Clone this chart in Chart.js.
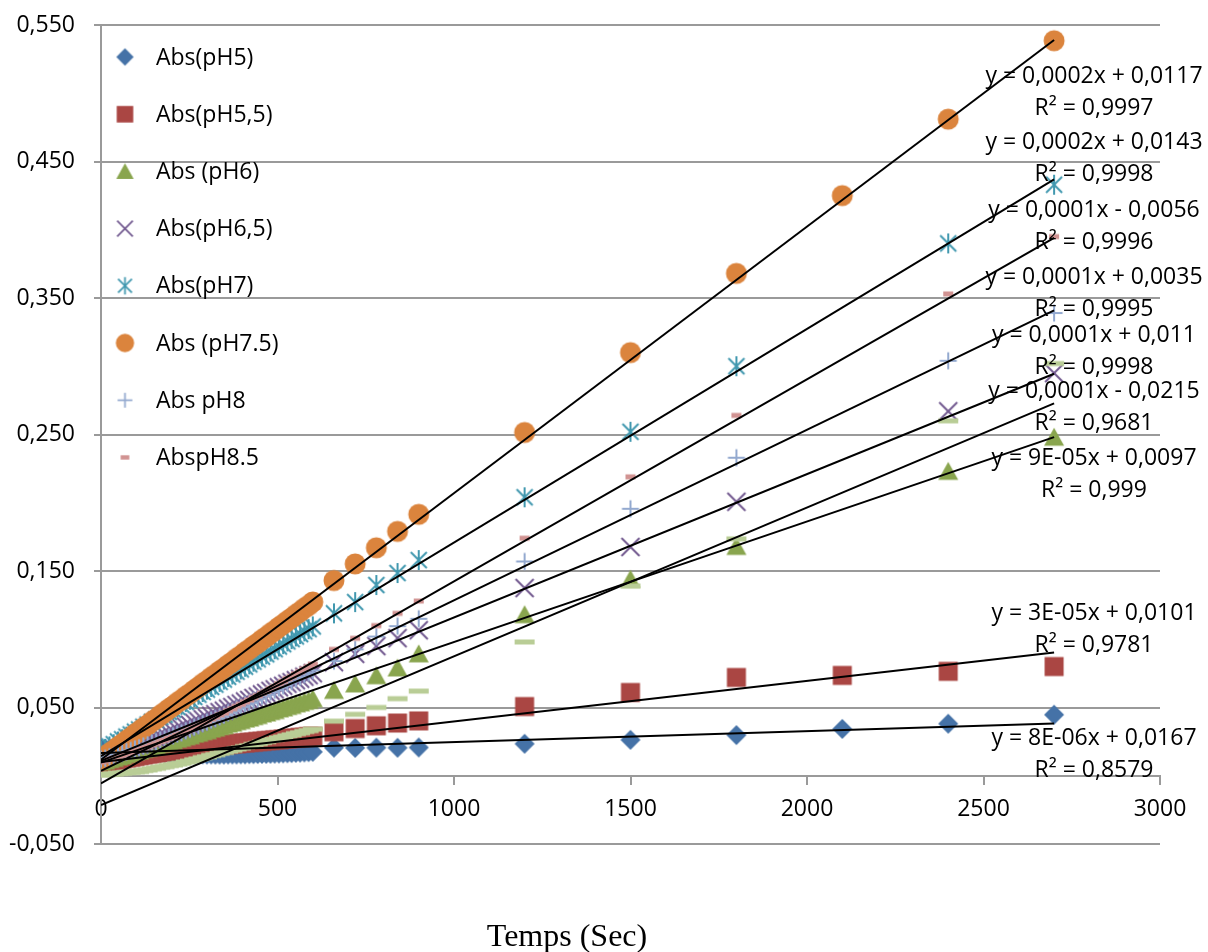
<!DOCTYPE html>
<html>
<head>
<meta charset="utf-8">
<title>Absorbance vs temps</title>
<script src="https://cdn.jsdelivr.net/npm/chart.js@4.4.1/dist/chart.umd.min.js"></script>
<style>
  html, body { margin: 0; padding: 0; background: #ffffff; }
  canvas { display: block; }
</style>
</head>
<body>
<canvas id="chart" width="1208" height="952"></canvas>
<script>
// Reading times (s): kinetic readings every 12 s up to 600 s, then spot readings
const tempsSec = [
  0, 12, 24, 36, 48, 60, 72, 84, 96, 108,
  120, 132, 144, 156, 168, 180, 192, 204, 216, 228,
  240, 252, 264, 276, 288, 300, 312, 324, 336, 348,
  360, 372, 384, 396, 408, 420, 432, 444, 456, 468,
  480, 492, 504, 516, 528, 540, 552, 564, 576, 588,
  600,
  660, 720, 780, 840, 900, 1200, 1500, 1800, 2100, 2400, 2700
];

// Absorbance per pH (null = no reading at that time)
const absPH5 = [
  .0201, .0198, .0194, .0192, .0188, .0186, .0183, .0181, .0178, .0177,
  .0174, .0172, .0171, .0169, .0167, .0166, .0164, .0163, .0162, .0161,
  .0160, .0159, .0158, .0157, .0157, .0156, .0156, .0155, .0155, .0155,
  .0156, .0156, .0156, .0157, .0157, .0158, .0158, .0159, .0160, .0160,
  .0161, .0162, .0163, .0164, .0165, .0166, .0168, .0169, .0171, .0173,
  .0175,
  .0206, .0204, .0206, .0205, .0207, .0234, .0263, .0298, .0343, .0381, .0447
];
const absPH55 = [
  .0092, .0099, .0104, .0112, .0117, .0124, .0128, .0135, .0140, .0147,
  .0151, .0158, .0161, .0167, .0170, .0176, .0179, .0184, .0187, .0193,
  .0196, .0200, .0202, .0207, .0209, .0214, .0216, .0221, .0222, .0227,
  .0229, .0233, .0234, .0239, .0240, .0245, .0246, .0251, .0252, .0257,
  .0258, .0263, .0264, .0269, .0270, .0275, .0276, .0281, .0282, .0287,
  .0289,
  .0322, .0346, .0366, .0386, .0402, .0507, .0610, .0720, .0735, .0765, .0800
];
const absPH6 = [
  .0101, .0108, .0119, .0127, .0138, .0145, .0156, .0164, .0175, .0182,
  .0194, .0201, .0212, .0219, .0231, .0238, .0249, .0256, .0268, .0275,
  .0286, .0293, .0305, .0312, .0323, .0330, .0342, .0349, .0360, .0367,
  .0379, .0386, .0397, .0404, .0416, .0423, .0434, .0441, .0453, .0460,
  .0471, .0478, .0490, .0497, .0508, .0515, .0527, .0534, .0545, .0552,
  .0564,
  .0625, .0673, .0733, .0790, .0893, .1180, .1440, .1680, null, .2230, .2480
];
const absPH65 = [
  .0141, .0149, .0161, .0169, .0181, .0189, .0201, .0209, .0221, .0229,
  .0242, .0252, .0266, .0276, .0290, .0300, .0314, .0324, .0338, .0348,
  .0362, .0373, .0388, .0399, .0414, .0425, .0440, .0451, .0466, .0477,
  .0492, .0503, .0518, .0529, .0544, .0555, .0570, .0581, .0596, .0607,
  .0622, .0633, .0648, .0659, .0674, .0685, .0700, .0711, .0726, .0737,
  .0751,
  .0832, .0893, .0950, .1008, .1066, .1375, .1676, .2007, null, .2670, .2950
];
const absPH7 = [
  .0181, .0196, .0215, .0231, .0251, .0267, .0287, .0303, .0323, .0339,
  .0359, .0375, .0395, .0411, .0431, .0447, .0468, .0484, .0504, .0520,
  .0541, .0557, .0577, .0594, .0614, .0631, .0651, .0668, .0688, .0705,
  .0725, .0742, .0762, .0779, .0799, .0816, .0836, .0853, .0873, .0890,
  .0910, .0927, .0947, .0964, .0984, .1001, .1021, .1038, .1058, .1074,
  .1094,
  .1190, .1272, .1397, .1485, .1580, .2040, .2520, .3000, null, .3900, .4330
];
const absPH75 = [
  .0121, .0141, .0166, .0187, .0212, .0233, .0258, .0279, .0305, .0326,
  .0351, .0372, .0397, .0418, .0443, .0465, .0490, .0511, .0536, .0557,
  .0582, .0603, .0628, .0650, .0675, .0696, .0721, .0742, .0767, .0788,
  .0813, .0834, .0859, .0880, .0905, .0926, .0951, .0972, .0997, .1018,
  .1043, .1064, .1089, .1110, .1135, .1156, .1181, .1202, .1227, .1248,
  .1273,
  .1430, .1552, .1670, .1790, .1915, .2515, .3100, .3680, .4250, .4810, .5385
];
const absPH8 = [
  .0121, .0128, .0139, .0147, .0158, .0166, .0177, .0185, .0197, .0205,
  .0218, .0227, .0240, .0249, .0262, .0271, .0284, .0293, .0306, .0315,
  .0330, .0341, .0356, .0367, .0382, .0393, .0408, .0419, .0434, .0445,
  .0462, .0475, .0492, .0505, .0522, .0535, .0552, .0565, .0582, .0595,
  .0613, .0627, .0645, .0659, .0677, .0691, .0709, .0723, .0741, .0755,
  .0772,
  .0840, .0926, .1020, .1096, .1150, .1570, .1956, .2330, null, .3040, .3390
];
const absPH85 = [
  .0101, .0109, .0121, .0129, .0141, .0149, .0161, .0169, .0181, .0189,
  .0203, .0213, .0227, .0237, .0251, .0261, .0275, .0285, .0299, .0309,
  .0326, .0339, .0356, .0369, .0386, .0399, .0416, .0429, .0446, .0459,
  .0477, .0491, .0509, .0523, .0541, .0555, .0573, .0587, .0605, .0619,
  .0639, .0655, .0675, .0691, .0711, .0727, .0747, .0763, .0783, .0799,
  .0818,
  .0926, .1007, .1100, .1190, .1280, .1740, .2190, .2640, null, .3530, .3950
];
const absPH9 = [
  .0006, .0007, .0012, .0013, .0018, .0019, .0024, .0025, .0030, .0031,
  .0039, .0043, .0051, .0055, .0063, .0067, .0075, .0079, .0087, .0091,
  .0101, .0107, .0117, .0123, .0133, .0139, .0149, .0155, .0165, .0171,
  .0181, .0187, .0197, .0203, .0213, .0219, .0229, .0235, .0245, .0251,
  .0261, .0267, .0277, .0283, .0293, .0299, .0309, .0315, .0325, .0331,
  .0341,
  .0400, .0450, .0500, .0565, .0620, .0980, .1390, .1735, null, .2600, .3020
];

const seriesNames = ['Abs(pH5)', 'Abs(pH5,5)', 'Abs (pH6)', 'Abs(pH6,5)', 'Abs(pH7)',
                     'Abs (pH7.5)', 'Abs pH8', 'AbspH8.5', 'Abs pH9'];
const seriesValues = [absPH5, absPH55, absPH6, absPH65, absPH7, absPH75, absPH8, absPH85, absPH9];
const shownInLegend = [true, true, true, true, true, true, true, true, false];

// Linear trendlines y = a·x + b and their R²
const fitSlope     = [0.00000797, 0.0000297, 0.0000883, 0.000105, 0.0001565, 0.0001953, 0.000125, 0.000148, 0.000109];
const fitIntercept = [0.0167, 0.0101, 0.0097, 0.011, 0.0143, 0.0117, 0.0035, -0.0056, -0.0215];
const fitR2        = [0.8579, 0.9781, 0.999, 0.9998, 0.9998, 0.9997, 0.9995, 0.9996, 0.9681];

// Axis ticks
const xTickValues = [0, 500, 1000, 1500, 2000, 2500, 3000];
const yTickValues = [-0.05, 0.05, 0.15, 0.25, 0.35, 0.45, 0.55];

// ---- styling ----
const seriesColors = ['#4572A7', '#AA4643', '#89A54E', '#71588F', '#4198AF',
                      '#DB843D', '#93A9CF', '#D19392', '#B9CD96'];
const markerKinds = ['diamond', 'square', 'triangle', 'x', 'star', 'circle', 'plus', 'dash', 'wideDash'];
// vertical position (axis units) of each trendline equation, R² sits one line below
const fitLabelY = [0.0272, 0.1191, 0.2324, 0.3228, 0.4640, 0.5125, 0.3647, 0.4140, 0.2816];
const fitLabelX = 2813;
const FONT = "'Open Sans', 'Noto Sans', sans-serif";
const GRID = '#9a9a9a';

function makeMarker(kind, color, s) {
  const size = Math.ceil(26 * s);
  const c = document.createElement('canvas');
  c.width = size; c.height = size;
  const g = c.getContext('2d');
  const m = size / 2;
  g.fillStyle = color; g.strokeStyle = color;
  g.lineWidth = 2 * s; g.lineCap = 'butt';
  const line = (x1, y1, x2, y2) => { g.beginPath(); g.moveTo(m + x1 * s, m + y1 * s); g.lineTo(m + x2 * s, m + y2 * s); g.stroke(); };
  switch (kind) {
    case 'diamond':
      g.beginPath();
      g.moveTo(m, m - 10 * s); g.lineTo(m + 10 * s, m); g.lineTo(m, m + 10 * s); g.lineTo(m - 10 * s, m);
      g.closePath(); g.fill(); break;
    case 'square':
      g.fillRect(m - 9.5 * s, m - 9.5 * s, 19 * s, 19 * s); break;
    case 'triangle':
      g.beginPath();
      g.moveTo(m, m - 9.5 * s); g.lineTo(m + 10 * s, m + 8.5 * s); g.lineTo(m - 10 * s, m + 8.5 * s);
      g.closePath(); g.fill(); break;
    case 'x':
      line(-9, -9, 9, 9); line(9, -9, -9, 9); break;
    case 'star':
      line(0, -10, 0, 10); line(-8, -8, 8, 8); line(8, -8, -8, 8); break;
    case 'circle':
      g.beginPath(); g.arc(m, m, 10.5 * s, 0, Math.PI * 2); g.fill(); break;
    case 'plus':
      line(-8.5, 0, 8.5, 0); line(0, -8.5, 0, 8.5); break;
    case 'dash':
      g.fillRect(m - 5 * s, m - 2.5 * s, 10 * s, 5 * s); break;
    case 'wideDash':
      g.fillRect(m - 10 * s, m - 2.5 * s, 20 * s, 5 * s); break;
  }
  return c;
}

const plotMarkers = markerKinds.map((k, i) => makeMarker(k, seriesColors[i], 1));
const legendMarkers = markerKinds.map((k, i) => makeMarker(k, seriesColors[i], 0.87));

// scatter datasets: later series painted above earlier ones, fit lines above all
const scatterSets = seriesValues.map((vals, i) => ({
  label: seriesNames[i],
  data: vals.map((v, j) => ({ x: tempsSec[j], y: v })).filter(p => p.y !== null),
  pointStyle: plotMarkers[i],
  pointRadius: 10,
  pointHoverRadius: 10,
  borderWidth: 0,
  backgroundColor: seriesColors[i],
  borderColor: seriesColors[i],
  showLine: false,
  order: 20 - i
}));

const trendSets = seriesValues.map((vals, i) => {
  const xs = tempsSec.filter((t, j) => vals[j] !== null);
  const x0 = Math.min(...xs), x1 = Math.max(...xs);
  return {
    label: 'Linéaire (' + seriesNames[i] + ')',
    data: [x0, x1].map(x => ({ x: x, y: fitSlope[i] * x + fitIntercept[i] })),
    showLine: true,
    borderColor: '#000000',
    borderWidth: 2,
    pointRadius: 0,
    pointHoverRadius: 0,
    fill: false,
    order: 1
  };
});

function fmtNum(v) {
  return v.toFixed(4).replace(/0+$/, '').replace(/\.$/, '').replace('.', ',');
}
function fmtCoef(v) {
  const a = Math.abs(v);
  if (a > 0 && a < 0.0001) {
    const [mant, ex] = a.toExponential(0).split('e');
    const e = parseInt(ex, 10);
    return (v < 0 ? '-' : '') + mant + 'E' + (e < 0 ? '-' : '+') + String(Math.abs(e)).padStart(2, '0');
  }
  return (v < 0 ? '-' : '') + fmtNum(a);
}
function equationText(i) {
  const b = fitIntercept[i];
  return 'y = ' + fmtCoef(fitSlope[i]) + 'x ' + (b < 0 ? '- ' : '+ ') + fmtNum(Math.abs(b));
}

const overlay = {
  id: 'overlay',
  afterDraw(chart) {
    const g = chart.ctx;
    const area = chart.chartArea;
    const xs = chart.scales.x, ys = chart.scales.y;
    g.save();
    g.fillStyle = '#000000';

    // legend, top-left inside the plot
    g.font = '23px ' + FONT;
    g.textAlign = 'left';
    g.textBaseline = 'middle';
    let row = 0;
    seriesNames.forEach((name, i) => {
      if (!shownInLegend[i]) return;
      const cy = area.top + 32 + row * 57.2;
      const mk = legendMarkers[i];
      g.drawImage(mk, area.left + 24 - mk.width / 2, cy - mk.height / 2);
      g.fillText(name, area.left + 55, cy + 1);
      row++;
    });

    // trendline equations
    g.textAlign = 'center';
    const cx = xs.getPixelForValue(fitLabelX);
    fitLabelY.forEach((yv, i) => {
      const py = ys.getPixelForValue(yv);
      g.fillText(equationText(i), cx, py);
      g.fillText('R² = ' + fmtNum(fitR2[i]), cx, py + 32);
    });

    // x axis title
    g.font = '32px "Liberation Serif", "Times New Roman", serif';
    g.textBaseline = 'alphabetic';
    g.fillText('Temps (Sec)', 567, 946);
    g.restore();
  }
};

Chart.defaults.font.family = FONT;
Chart.defaults.font.size = 23;
Chart.defaults.color = '#000000';

new Chart(document.getElementById('chart'), {
  type: 'scatter',
  data: { datasets: scatterSets.concat(trendSets) },
  options: {
    responsive: false,
    animation: false,
    events: [],
    layout: { padding: { left: 0, top: 25, right: 48, bottom: 108 } },
    plugins: { legend: { display: false }, tooltip: { enabled: false } },
    scales: {
      x: {
        type: 'linear',
        min: 0, max: 3000,
        position: { y: 0 },
        afterBuildTicks: s => { s.ticks = xTickValues.map(v => ({ value: v })); },
        ticks: { padding: 12, maxRotation: 0, autoSkip: false, callback: v => String(v) },
        grid: { drawOnChartArea: false, drawTicks: true, tickLength: 8, color: GRID, lineWidth: 2 },
        border: { color: GRID, width: 2 }
      },
      y: {
        type: 'linear',
        min: -0.05, max: 0.55,
        afterBuildTicks: s => { s.ticks = yTickValues.map(v => ({ value: v })); },
        afterFit: s => { s.width = 101; s.paddingTop = 0; s.paddingBottom = 0; },
        ticks: { padding: 19, autoSkip: false, callback: v => v.toFixed(3).replace('.', ',') },
        grid: { color: GRID, lineWidth: 2, tickLength: 7 },
        border: { color: GRID, width: 2 }
      }
    }
  },
  plugins: [overlay]
});
</script>
</body>
</html>
